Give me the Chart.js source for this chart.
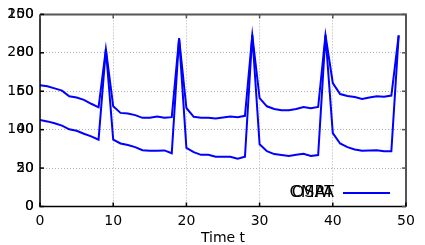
<!DOCTYPE html>
<html lang="en">

<head>
    <meta charset="UTF-8">
    <title>OSPA over time</title>
    <script src="https://cdn.jsdelivr.net/npm/chart.js"></script>
    <style>
        html, body { margin: 0; padding: 0; background: #fff; }
        #wrap { width: 425px; height: 245px; }
    </style>
</head>

<body>

    <div id="wrap"><canvas id="ospaChart" width="425" height="245"></canvas></div>

    <script>
        // time steps 0..49
        const times = Array.from({ length: 50 }, (_, i) => i);

        // upper curve, read against the 0-250 scale
        const ospaValues = [
            157.9, 156.6, 153.7, 150.8, 143.5, 141.8, 138.8, 133.7, 129.1, 204.7,
            130.4, 121.8, 120.9, 118.9, 115.4, 115.4, 117.1, 115.4, 116.3, 218.7,
            128.2, 116.7, 115.4, 115.4, 114.5, 115.8, 117.1, 116.3, 118.0, 223.0,
            141.0, 130.4, 126.9, 125.3, 125.3, 126.9, 129.5, 127.8, 129.5, 223.0,
            160.7, 146.4, 143.9, 142.6, 140.0, 141.8, 143.5, 142.9, 144.4, 222.6
        ];

        // lower curve, read against the 0-100 scale
        const cmatValues = [
            45.0, 44.3, 43.3, 42.1, 40.2, 39.4, 37.9, 36.5, 34.8, 81.9,
            34.8, 32.8, 32.0, 30.9, 29.3, 29.0, 29.0, 29.2, 27.7, 87.5,
            30.5, 28.3, 26.9, 26.9, 25.9, 25.9, 25.9, 24.9, 25.9, 89.2,
            32.4, 28.8, 27.3, 26.8, 26.3, 26.9, 27.4, 26.3, 26.8, 89.2,
            38.2, 32.8, 30.9, 29.7, 29.0, 29.2, 29.3, 28.8, 28.8, 89.0
        ];

        const xTicks = [0, 10, 20, 30, 40, 50];
        const yTicksLeft = [0, 50, 100, 150, 200, 250];
        const yTicksOverlay = [0, 20, 40, 60, 80, 100];
        const seriesLabels = ['OSPA', 'CMAT'];
        const xTitle = 'Time t';

        const FONT = 'DejaVu Sans';
        const BLUE = '#0000ff';

        // second set of y labels printed on top of the first one, and the legend
        const overlayPlugin = {
            id: 'overlay',
            afterDraw(chart) {
                const c = chart.ctx;
                const y = chart.scales.y;
                const y2 = chart.scales.y2;
                const a = chart.chartArea;
                c.save();

                // frame
                c.lineWidth = 2;
                c.strokeStyle = '#555';
                c.beginPath();
                c.moveTo(a.left, a.top); c.lineTo(a.right, a.top); c.lineTo(a.right, a.bottom);
                c.stroke();
                c.lineWidth = 1.5;
                c.strokeStyle = '#000';
                c.beginPath();
                c.moveTo(a.left, a.top); c.lineTo(a.left, a.bottom); c.lineTo(a.right, a.bottom);
                c.stroke();

                // inward tick marks
                c.lineWidth = 1.5;
                yTicksLeft.forEach(v => {
                    const py = y.getPixelForValue(v);
                    c.strokeStyle = '#000';
                    c.beginPath(); c.moveTo(a.left, py); c.lineTo(a.left + 4, py); c.stroke();
                    c.strokeStyle = '#555';
                    c.beginPath(); c.moveTo(a.right, py); c.lineTo(a.right - 4, py); c.stroke();
                });
                xTicks.forEach(v => {
                    const px = chart.scales.x.getPixelForValue(v);
                    c.strokeStyle = '#000';
                    c.beginPath(); c.moveTo(px, a.bottom); c.lineTo(px, a.bottom - 4); c.stroke();
                    c.strokeStyle = '#555';
                    c.beginPath(); c.moveTo(px, a.top); c.lineTo(px, a.top + 4); c.stroke();
                });

                // overlapping y labels
                c.fillStyle = '#000';
                c.font = '14px "' + FONT + '"';
                c.textAlign = 'right';
                c.textBaseline = 'middle';
                yTicksOverlay.forEach(v => {
                    c.fillText(String(v), y.right - 6, y2.getPixelForValue(v));
                });

                // legend, both entries in the same spot
                c.font = '16px "' + FONT + '"';
                seriesLabels.forEach(t => c.fillText(t, 334, 193));
                c.strokeStyle = BLUE;
                c.lineWidth = 2;
                c.beginPath(); c.moveTo(343, 193); c.lineTo(390, 193); c.stroke();
                c.restore();
            }
        };

        const ctx = document.getElementById('ospaChart').getContext('2d');

        const ospaChart = new Chart(ctx, {
            type: 'line',
            data: {
                datasets: [{
                    label: seriesLabels[0],
                    data: times.map((t, i) => ({ x: t, y: ospaValues[i] })),
                    yAxisID: 'y',
                    borderColor: BLUE,
                    borderWidth: 2,
                    pointRadius: 0,
                    tension: 0
                }, {
                    label: seriesLabels[1],
                    data: times.map((t, i) => ({ x: t, y: cmatValues[i] })),
                    yAxisID: 'y2',
                    borderColor: BLUE,
                    borderWidth: 2,
                    pointRadius: 0,
                    tension: 0
                }]
            },
            options: {
                responsive: false,
                animation: false,
                layout: { padding: { top: 10, right: 19, left: 0, bottom: 0 } },
                plugins: {
                    legend: { display: false },
                    tooltip: { enabled: false }
                },
                scales: {
                    x: {
                        type: 'linear',
                        min: 0,
                        max: 50,
                        afterBuildTicks: s => { s.ticks = xTicks.map(v => ({ value: v })); },
                        afterFit: s => { s.height = 38.5; },
                        ticks: { color: '#000', font: { family: FONT, size: 14 }, padding: 6 },
                        grid: { color: '#b0b0b0', lineWidth: 1, drawTicks: false },
                        border: { display: false, dash: [1, 2] },
                        title: {
                            display: true,
                            text: xTitle,
                            color: '#000',
                            font: { family: FONT, size: 14 },
                            padding: { top: 0, bottom: -2 }
                        }
                    },
                    y: {
                        position: 'left',
                        min: 0,
                        max: 250,
                        afterBuildTicks: s => { s.ticks = yTicksLeft.map(v => ({ value: v })); },
                        afterFit: s => { s.width = 40; },
                        ticks: { color: '#000', font: { family: FONT, size: 14 }, padding: 6 },
                        grid: { color: '#b0b0b0', lineWidth: 1, drawTicks: false },
                        border: { display: false, dash: [1, 2] }
                    },
                    y2: {
                        display: false,
                        min: 0,
                        max: 100
                    }
                }
            },
            plugins: [overlayPlugin]
        });
    </script>

</body>

</html>
